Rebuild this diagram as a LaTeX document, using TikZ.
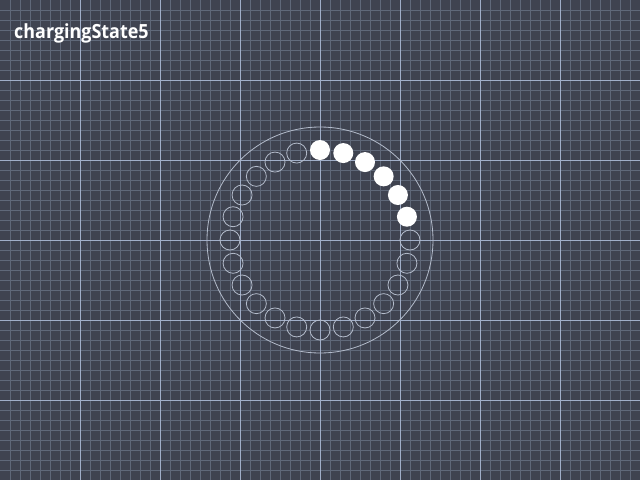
\documentclass[tikz,border=0pt]{standalone}
\usepackage{fontspec}
\setmainfont{Open Sans}
\newfontfamily\titlefont[FakeStretch=0.92]{Open Sans Bold}
\usetikzlibrary{calc}
\definecolor{bg}{HTML}{3F4350}
\definecolor{minorg}{HTML}{5F6879}
\definecolor{majorg}{HTML}{A0AEC8}
\definecolor{ringc}{HTML}{B4BCCB}
\begin{document}
\begin{tikzpicture}[x=1pt,y=-1pt,
  minorline/.style={draw=minorg,line width=0.9pt},
  majorline/.style={draw=majorg,line width=1pt},
  ring/.style={draw=ringc,line width=0.8pt},
  dotoff/.style={circle,draw=ringc,line width=0.8pt,minimum size=20pt,inner sep=0pt},
  doton/.style={circle,fill=white,minimum size=20pt,inner sep=0pt},
  title/.style={anchor=base west,text=white,font=\titlefont\fontsize{19.5}{22}\selectfont,inner sep=0pt}]
\fill[bg] (0,0) rectangle (640,480);
\useasboundingbox (0,0) rectangle (640,480);
\foreach \i in {1,...,63} {\draw[minorline] (\i*10,0) -- (\i*10,480);}
\foreach \i in {1,...,47} {\draw[minorline] (0,\i*10) -- (640,\i*10);}
\foreach \i in {1,...,7} {\draw[majorline] (\i*80,0) -- (\i*80,480);}
\foreach \i in {1,...,5} {\draw[majorline] (0,\i*80) -- (640,\i*80);}
\coordinate (c) at (320,240);
\node[circle,ring,minimum size=226pt,inner sep=0pt] (outer) at (c) {};
\foreach \k in {0,...,23} {
  \pgfmathsetmacro{\ang}{90-15*\k}
  \ifnum\k<6
    \node[doton] (d\k) at ($(c)+(\ang:90pt)$) {};
  \else
    \node[dotoff] (d\k) at ($(c)+(\ang:90pt)$) {};
  \fi
}
\node[title] (t) at (14,38) {chargingState5};
\end{tikzpicture}
\end{document}
